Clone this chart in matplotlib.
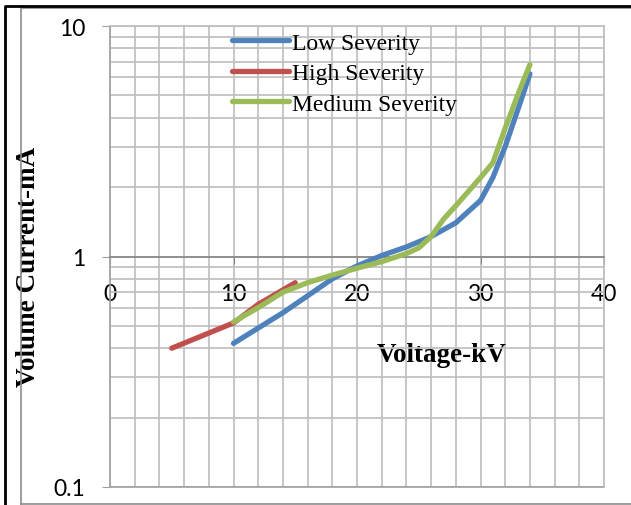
import matplotlib
matplotlib.use('Agg')
import matplotlib.pyplot as plt
from matplotlib.lines import Line2D
from matplotlib.ticker import MultipleLocator, LogLocator, NullFormatter, FixedLocator

# readings
low_kv = [10, 14, 18, 20, 22, 24, 26, 28, 30, 31, 32, 33, 34]
low_ma = [0.42, 0.57, 0.80, 0.91, 1.01, 1.10, 1.22, 1.40, 1.75, 2.2, 3.0, 4.3, 6.2]

high_kv = [5, 10, 12, 15]
high_ma = [0.40, 0.515, 0.62, 0.77]

med_kv = [10, 12, 14, 16, 18, 20, 22, 24, 25, 26, 27, 28, 30, 31, 32, 33, 34]
med_ma = [0.52, 0.60, 0.70, 0.77, 0.83, 0.89, 0.95, 1.03, 1.09, 1.22, 1.45, 1.66, 2.2, 2.55, 3.6, 5.0, 6.8]

x_ticks = [0, 10, 20, 30, 40]
y_ticks = [0.1, 1, 10]

GRID = '#bebebe'
W, H = 631, 506

fig = plt.figure(figsize=(W / 100, H / 100), dpi=100)
ax = fig.add_axes([110 / W, 18 / H, 494 / W, 461 / H])

ax.plot(low_kv, low_ma, color='#4f81bd', lw=3.8, solid_capstyle='round', solid_joinstyle='round',
        label='Low Severity', zorder=3)
ax.plot(high_kv, high_ma, color='#c0504d', lw=3.8, solid_capstyle='round', solid_joinstyle='round',
        label='High Severity', zorder=3)
ax.plot(med_kv, med_ma, color='#9bbb59', lw=3.8, solid_capstyle='round', solid_joinstyle='round',
        label='Medium Severity', zorder=3)

ax.set_yscale('log')
ax.set_xlim(0, 40)
ax.set_ylim(0.1, 10)

ax.xaxis.set_major_locator(FixedLocator(x_ticks))
ax.xaxis.set_minor_locator(MultipleLocator(2))
ax.yaxis.set_major_locator(FixedLocator(y_ticks))
ax.yaxis.set_minor_locator(LogLocator(base=10, subs=range(2, 10)))
ax.yaxis.set_minor_formatter(NullFormatter())
ax.set_yticklabels(['0.1', '1', '10'])
ax.set_xticklabels([str(t) for t in x_ticks])

ax.grid(True, which='both', color=GRID, lw=1.2, zorder=0)
ax.set_axisbelow(True)

ax.spines['bottom'].set_position(('data', 1))
ax.spines['bottom'].set_color('#868686')
ax.spines['left'].set_color('#a0a0a0')
ax.spines['top'].set_color(GRID)
ax.spines['right'].set_color(GRID)
for s in ax.spines.values():
    s.set_linewidth(1.2)
ax.axhline(0.1, color='#a0a0a0', lw=1.2, clip_on=False)

ax.tick_params(which='minor', length=0)
ax.tick_params(axis='x', which='major', direction='out', length=5, color='#868686', pad=14)
ax.tick_params(axis='y', which='major', direction='out', length=6, color='#a0a0a0', pad=12)
for lab in ax.get_xticklabels() + ax.get_yticklabels():
    lab.set_fontfamily('Lato')
    lab.set_fontsize(16.5)

ax.set_xlabel('Voltage-kV', family='Liberation Serif', weight='bold', fontsize=19.5)
ax.xaxis.set_label_coords((442 - 110) / 494, (488 - 355) / 461)
ax.xaxis.label.set_va('center')
ax.set_ylabel('Volume Current-mA', family='Liberation Serif', weight='bold', fontsize=19.5)
ax.yaxis.set_label_coords((28 - 110) / 494, (488 - 267) / 461)
ax.yaxis.label.set_va('center')

ax.legend(loc='upper left', bbox_to_anchor=(232 / W, 1 - 33 / H), bbox_transform=fig.transFigure,
          frameon=False, prop={'family': 'Liberation Serif', 'size': 17},
          handlelength=2.4, handletextpad=0.12, labelspacing=0.38, borderpad=0, borderaxespad=0)

# chart frame
fig.add_artist(Line2D([21 / W, 21 / W, 1], [1 - 505 / H, 1 - 9 / H, 1 - 9 / H], color='#8c8c8c', lw=1.2))
fig.add_artist(Line2D([21 / W, 1], [1 - 505 / H, 1 - 505 / H], color='#8c8c8c', lw=1.2))
fig.add_artist(Line2D([5 / W, 5 / W, 1], [0, 1 - 7 / H, 1 - 7 / H], color='black', lw=2))

fig.savefig('out.png', dpi=100)
